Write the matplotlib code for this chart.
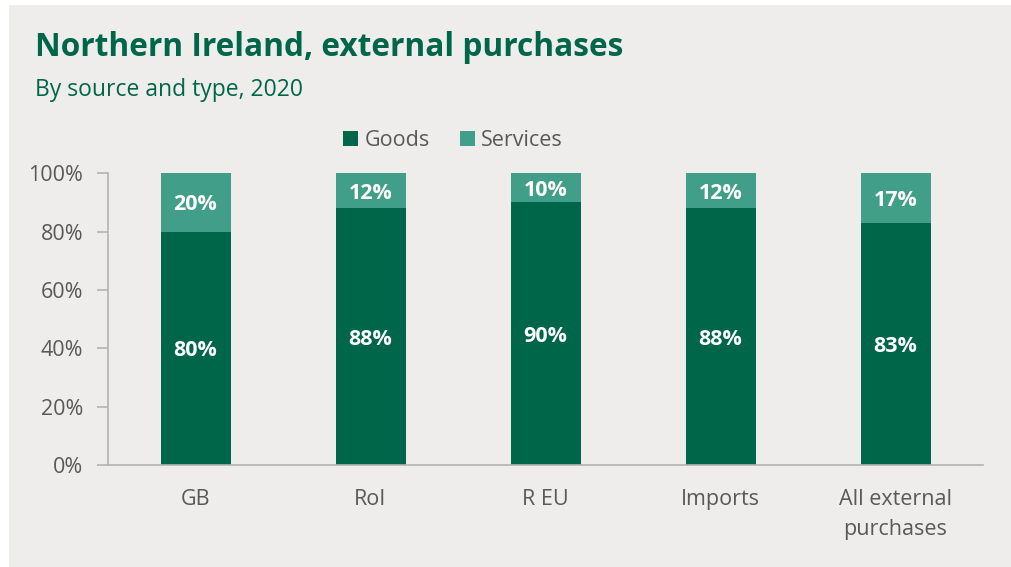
import matplotlib.pyplot as plt

categories = ['GB', 'RoI', 'R EU', 'Imports', 'All external\npurchases']
goods = [80, 88, 90, 88, 83]
services = [20, 12, 10, 12, 17]

dark_green = '#00664a'
light_green = '#419e89'
bg = '#eeedeb'
grey_text = '#595959'

plt.rcParams['font.family'] = ['Open Sans', 'DejaVu Sans']

fig = plt.figure(figsize=(10.11, 5.67), dpi=100)
fig.patch.set_facecolor('white')
# grey panel behind everything
fig.patches.append(plt.Rectangle((9 / 1011, 0), 1 - 9 / 1011, 1 - 5 / 567,
                                 transform=fig.transFigure, facecolor=bg,
                                 edgecolor='none', zorder=-10))

ax = fig.add_axes([108 / 1011, 102 / 567, 875 / 1011, 291.7 / 567])
ax.set_facecolor('none')

x = range(len(categories))
b1 = ax.bar(x, goods, width=0.4, color=dark_green, label='Goods')
b2 = ax.bar(x, services, width=0.4, bottom=goods, color=light_green, label='Services')

for i in x:
    ax.text(i, goods[i] / 2, f'{goods[i]}%', ha='center', va='center_baseline',
            color='white', fontsize=15.5, fontweight='bold')
    ax.text(i, goods[i] + services[i] / 2, f'{services[i]}%', ha='center',
            va='center_baseline', color='white', fontsize=15.5, fontweight='bold')

ax.set_xlim(-0.5, 4.5)
ax.set_ylim(0, 100)
ax.set_yticks(range(0, 101, 20))
ax.set_yticklabels([f'{v}%' for v in range(0, 101, 20)])
ax.set_xticks(list(x))
ax.set_xticklabels(categories, linespacing=1.6)

for s in ['top', 'right']:
    ax.spines[s].set_visible(False)
for s in ['left', 'bottom']:
    ax.spines[s].set_color('#b3b3b3')
    ax.spines[s].set_linewidth(1.2)
ax.tick_params(axis='y', colors='#b3b3b3', labelcolor=grey_text, labelsize=15.5,
               length=8, width=1.2, pad=10)
ax.tick_params(axis='x', length=0, labelcolor=grey_text, labelsize=15.5, pad=17)

leg = fig.legend(handles=[b1, b2], loc='center', bbox_to_anchor=(453 / 1011, 1 - 141 / 567),
                 ncol=2, frameon=False, fontsize=15.5, handlelength=0.7, handleheight=0.7,
                 handletextpad=0.3, columnspacing=1.4)
for t in leg.get_texts():
    t.set_color(grey_text)

fig.text(35 / 1011, 1 - 47 / 567, 'Northern Ireland, external purchases', color=dark_green,
         fontsize=22.8, fontweight='bold', va='center', ha='left')
fig.text(35 / 1011, 1 - 90 / 567, 'By source and type, 2020', color=dark_green,
         fontsize=16.5, va='center', ha='left')

fig.savefig('out.png', dpi=100, facecolor=fig.get_facecolor())
